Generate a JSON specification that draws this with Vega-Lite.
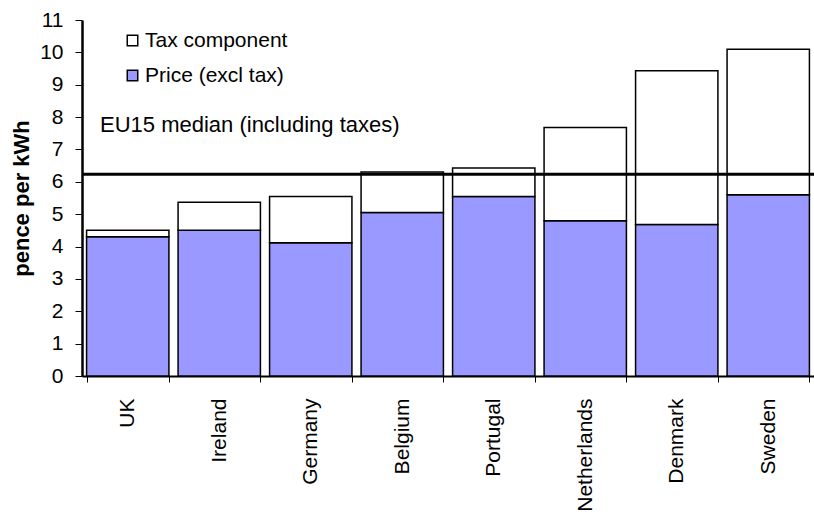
{
  "$schema": "https://vega.github.io/schema/vega-lite/v6.json",
  "width": 732,
  "height": 356,
  "autosize": {"type": "none"},
  "padding": {"left": 82, "top": 20, "right": 0, "bottom": 139},
  "background": "white",
  "config": {
    "font": "Liberation Sans",
    "view": {"stroke": null},
    "axis": {"labelFont": "Liberation Sans", "titleFont": "Liberation Sans", "labelColor": "black", "titleColor": "black", "domainColor": "black", "tickColor": "black"}
  },
  "datasets": {
    "bars": [
      {"country": "UK", "component": "Price (excl tax)", "value": 4.3, "ord": 1},
      {"country": "UK", "component": "Tax component", "value": 0.2, "ord": 2},
      {"country": "Ireland", "component": "Price (excl tax)", "value": 4.5, "ord": 1},
      {"country": "Ireland", "component": "Tax component", "value": 0.87, "ord": 2},
      {"country": "Germany", "component": "Price (excl tax)", "value": 4.12, "ord": 1},
      {"country": "Germany", "component": "Tax component", "value": 1.43, "ord": 2},
      {"country": "Belgium", "component": "Price (excl tax)", "value": 5.05, "ord": 1},
      {"country": "Belgium", "component": "Tax component", "value": 1.25, "ord": 2},
      {"country": "Portugal", "component": "Price (excl tax)", "value": 5.55, "ord": 1},
      {"country": "Portugal", "component": "Tax component", "value": 0.88, "ord": 2},
      {"country": "Netherlands", "component": "Price (excl tax)", "value": 4.8, "ord": 1},
      {"country": "Netherlands", "component": "Tax component", "value": 2.88, "ord": 2},
      {"country": "Denmark", "component": "Price (excl tax)", "value": 4.68, "ord": 1},
      {"country": "Denmark", "component": "Tax component", "value": 4.75, "ord": 2},
      {"country": "Sweden", "component": "Price (excl tax)", "value": 5.6, "ord": 1},
      {"country": "Sweden", "component": "Tax component", "value": 4.5, "ord": 2}
    ],
    "median": [{"label": "EU15 median (including taxes)", "value": 6.23, "labelY": 7.75}]
  },
  "layer": [
    {
      "data": {"name": "bars"},
      "mark": {"type": "bar", "stroke": "black", "strokeWidth": 1.5},
      "encoding": {
        "x": {
          "field": "country", "type": "nominal", "sort": null,
          "scale": {"paddingInner": 0.1, "paddingOuter": 0.05},
          "axis": {"title": null, "labelAngle": -90, "labelAlign": "right", "labelBaseline": "middle", "labelFontSize": 21, "labelPadding": 16, "tickBand": "extent", "tickSize": 6, "domainWidth": 2, "labelOverlap": false, "labelBound": false}
        },
        "y": {
          "field": "value", "type": "quantitative", "stack": "zero",
          "scale": {"domain": [0, 11], "nice": false},
          "axis": {"title": "pence per kWh", "titleFontSize": 22, "titleFontWeight": "bold", "titlePadding": 6, "tickCount": 11, "tickMinStep": 1, "labelFontSize": 21, "labelPadding": 12, "labelOverlap": false, "labelBound": false, "labelFlush": false, "tickSize": 7, "grid": false, "domainWidth": 2.5}
        },
        "color": {
          "field": "component", "type": "nominal",
          "scale": {"domain": ["Tax component", "Price (excl tax)"], "range": ["#FFFFFF", "#9999FF"]},
          "legend": {"title": null, "orient": "none", "legendX": 40, "legendY": 10, "symbolType": "square", "symbolSize": 110, "symbolStrokeColor": "black", "symbolStrokeWidth": 1.5, "labelFontSize": 21, "labelOffset": 2, "rowPadding": 13, "labelColor": "black"}
        },
        "order": {"field": "ord", "type": "quantitative"}
      }
    },
    {
      "data": {"name": "median"},
      "mark": {"type": "rule", "stroke": "black", "strokeWidth": 3},
      "encoding": {"y": {"field": "value", "type": "quantitative"}}
    },
    {
      "data": {"name": "median"},
      "mark": {"type": "text", "align": "left", "baseline": "middle", "fontSize": 22, "color": "black", "x": 18},
      "encoding": {"y": {"field": "labelY", "type": "quantitative"}, "text": {"field": "label"}}
    }
  ]
}
